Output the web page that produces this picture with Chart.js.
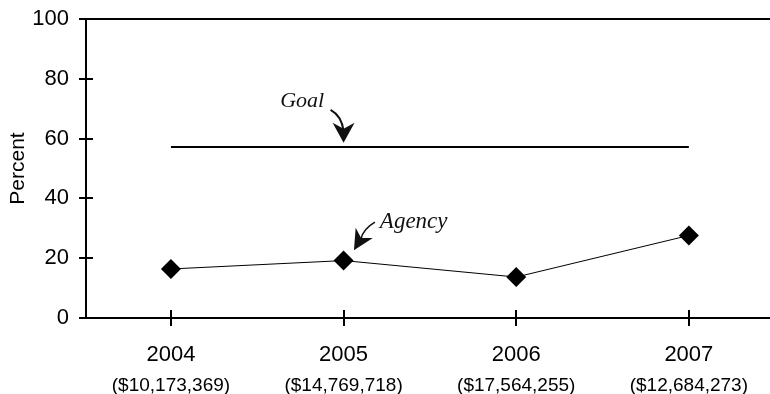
<!DOCTYPE html>
<html>
<head>
<meta charset="utf-8">
<script src="https://cdn.jsdelivr.net/npm/chart.js@4.4.0/dist/chart.umd.min.js"></script>
<style>
  html, body { margin: 0; padding: 0; background: #fff; overflow: hidden; }
  #wrap { width: 770px; height: 394px; }
  canvas { display: block; }
</style>
</head>
<body>
<div id="wrap"><canvas id="chart" width="770" height="394"></canvas></div>
<script>
// Chart data
const years = [2004, 2005, 2006, 2007];
const amounts = ['($10,173,369)', '($14,769,718)', '($17,564,255)', '($12,684,273)'];
const agencyPct = [16.4, 19.2, 13.7, 27.6];
const goalPct = [57.2, 57.2, 57.2, 57.2];
const yTicks = [0, 20, 40, 60, 80, 100];

const sans = "'Liberation Sans', Arial, sans-serif";
const serif = "'Liberation Serif', 'Times New Roman', serif";

// inner half of the tick marks (they cross the axis in the original)
const crossTicks = {
  id: 'crossTicks',
  afterDraw(chart) {
    const { ctx, scales: { x, y } } = chart;
    ctx.save();
    ctx.strokeStyle = '#000';
    ctx.lineWidth = 2;
    ctx.beginPath();
    yTicks.forEach(v => {
      const py = Math.round(y.getPixelForValue(v));
      ctx.moveTo(x.left, py);
      ctx.lineTo(x.left + 7, py);
    });
    years.forEach(v => {
      const px = Math.round(x.getPixelForValue(v));
      ctx.moveTo(px, y.bottom);
      ctx.lineTo(px, y.bottom - 8);
    });
    ctx.stroke();
    ctx.restore();
  }
};

function arrowHead(ctx, tx, ty, dx, dy, len, half) {
  const n = Math.hypot(dx, dy);
  const ux = dx / n, uy = dy / n;
  const bx = tx - ux * len, by = ty - uy * len;
  ctx.beginPath();
  ctx.moveTo(tx, ty);
  ctx.lineTo(bx - uy * half, by + ux * half);
  ctx.lineTo(tx - ux * len * 0.7, ty - uy * len * 0.7);
  ctx.lineTo(bx + uy * half, by - ux * half);
  ctx.closePath();
  ctx.fill();
}

// "Goal" and "Agency" callouts with their arrows
const callouts = {
  id: 'callouts',
  afterDatasetsDraw(chart) {
    const { ctx, scales: { x, y } } = chart;
    ctx.save();
    ctx.fillStyle = '#111';
    ctx.strokeStyle = '#111';
    ctx.font = 'italic 22px ' + serif;
    ctx.textBaseline = 'middle';

    // Goal
    ctx.textAlign = 'center';
    ctx.fillText('Goal', x.getPixelForValue(2004.76), y.getPixelForValue(72.4));
    let tx = x.getPixelForValue(2005), ty = y.getPixelForValue(58.6);
    ctx.lineWidth = 2;
    ctx.beginPath();
    ctx.moveTo(tx - 13, ty - 33);
    ctx.quadraticCurveTo(tx - 2, ty - 27, tx, ty - 12);
    ctx.stroke();
    arrowHead(ctx, tx, ty, 0, 1, 20, 11);

    // Agency
    ctx.font = 'italic 23px ' + serif;
    ctx.textAlign = 'left';
    ctx.fillText('Agency', x.getPixelForValue(2005.21), y.getPixelForValue(32.1));
    tx = x.getPixelForValue(2005.06); ty = y.getPixelForValue(22.7);
    ctx.lineWidth = 1.6;
    ctx.beginPath();
    ctx.moveTo(tx + 21, ty - 28);
    ctx.quadraticCurveTo(tx + 9, ty - 21, tx + 7, ty - 11);
    ctx.stroke();
    arrowHead(ctx, tx, ty, -0.6, 1, 20, 10);
    ctx.restore();
  }
};

const yearTicks = scale => { scale.ticks = years.map(v => ({ value: v })); };

new Chart(document.getElementById('chart'), {
  type: 'line',
  data: {
    datasets: [
      {
        label: 'Goal',
        data: years.map((yr, i) => ({ x: yr, y: goalPct[i] })),
        borderColor: '#000',
        borderWidth: 2,
        pointRadius: 0,
        fill: false
      },
      {
        label: 'Agency',
        data: years.map((yr, i) => ({ x: yr, y: agencyPct[i] })),
        borderColor: '#000',
        borderWidth: 1,
        pointStyle: 'rectRot',
        pointRadius: 10,
        pointBackgroundColor: '#000',
        pointBorderColor: '#000',
        pointBorderWidth: 0,
        fill: false
      }
    ]
  },
  options: {
    responsive: false,
    animation: false,
    devicePixelRatio: 1,
    layout: { autoPadding: false, padding: { top: 19, right: 0, bottom: 0, left: 0 } },
    plugins: { legend: { display: false }, tooltip: { enabled: false } },
    scales: {
      x: {
        type: 'linear',
        position: 'bottom',
        min: 2003.508,
        max: 2007.47,
        afterBuildTicks: yearTicks,
        afterFit: s => { s.height = 50; s.paddingLeft = 0; s.paddingRight = 0; },
        border: { display: true, color: '#000', width: 2 },
        grid: { drawOnChartArea: false, drawTicks: true, tickLength: 8, color: '#000', tickColor: '#000', lineWidth: 2 },
        ticks: {
          color: '#000',
          padding: 16,
          maxRotation: 0,
          font: { family: sans, size: 22 },
          callback: v => String(v)
        }
      },
      x2: {
        type: 'linear',
        position: 'bottom',
        min: 2003.508,
        max: 2007.47,
        afterBuildTicks: yearTicks,
        afterFit: s => { s.height = 26; s.paddingLeft = 0; s.paddingRight = 0; },
        border: { display: false },
        grid: { display: false, drawTicks: false },
        ticks: {
          color: '#000',
          padding: 6,
          maxRotation: 0,
          font: { family: sans, size: 19 },
          callback: v => amounts[years.indexOf(v)]
        }
      },
      y: {
        min: 0,
        max: 100,
        afterBuildTicks: s => { s.ticks = yTicks.map(v => ({ value: v })); },
        afterFit: s => { s.width = 86; s.paddingTop = 0; s.paddingBottom = 0; },
        border: { display: true, color: '#000', width: 2 },
        grid: {
          drawTicks: true,
          tickLength: 7,
          lineWidth: 2,
          tickColor: '#000',
          color: c => (c.tick && c.tick.value === 100 ? '#000' : 'rgba(0,0,0,0)')
        },
        ticks: {
          color: '#000',
          padding: 10,
          font: { family: sans, size: 22 }
        },
        title: {
          display: true,
          text: 'Percent',
          color: '#000',
          padding: { top: 6, bottom: 0 },
          font: { family: sans, size: 21 }
        }
      }
    }
  },
  plugins: [crossTicks, callouts]
});
</script>
</body>
</html>
